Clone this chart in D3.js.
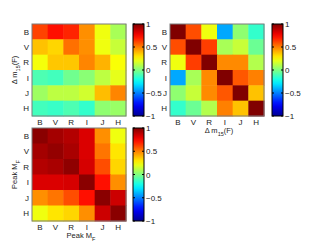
<!DOCTYPE html>
<html>
<head>
<meta charset="utf-8">
<script src="https://cdn.jsdelivr.net/npm/d3@7"></script>
<style>
  body { margin: 0; background: #fff; }
  svg { display: block; font-family: "Liberation Sans", Arial, sans-serif; }
</style>
</head>
<body>
<div id="chart"></div>
<script>
// band names (rows top to bottom, columns left to right)
const bands = ["B", "V", "R", "I", "J", "H"];

// correlation of delta m15(F) (rows) vs peak M_F (cols)
const dm15VsPeak = [
  [0.62, 0.72, 0.68, 0.47, 0.22, 0.08],
  [0.37, 0.33, 0.53, 0.47, 0.22, 0.14],
  [0.23, 0.36, 0.36, 0.49, 0.40, 0.24],
  [-0.10, -0.12, -0.03, 0.02, 0.12, 0.20],
  [0.06, 0.12, 0.12, 0.16, 0.38, 0.49],
  [-0.12, -0.14, -0.10, -0.15, 0.03, 0.05]
];

// correlation of delta m15(F) between bands
const dm15Corr = [
  [1.00, 0.60, 0.22, -0.42, 0.03, -0.15],
  [0.60, 1.00, 0.63, 0.08, 0.14, -0.04],
  [0.22, 0.63, 1.00, 0.48, 0.48, 0.10],
  [-0.42, 0.08, 0.48, 1.00, 0.58, 0.50],
  [0.03, 0.14, 0.48, 0.58, 1.00, 0.37],
  [-0.15, -0.04, 0.10, 0.50, 0.37, 1.00]
];

// correlation of peak M_F between bands
const peakCorr = [
  [0.98, 0.93, 0.90, 0.82, 0.47, 0.22],
  [0.93, 0.96, 0.92, 0.82, 0.52, 0.30],
  [0.90, 0.92, 0.97, 0.83, 0.60, 0.33],
  [0.82, 0.82, 0.83, 0.98, 0.72, 0.47],
  [0.47, 0.52, 0.60, 0.72, 0.98, 0.85],
  [0.22, 0.30, 0.33, 0.47, 0.85, 0.98]
];

const cbTicks = [1, 0.5, 0, -0.5, -1];

const width = 325, height = 245;

const svg = d3.select("#chart").append("svg")
  .attr("width", width)
  .attr("height", height);

// matlab-like jet colormap
const jet = d3.scaleLinear()
  .domain([-1, -0.75, -0.25, 0.25, 0.75, 1])
  .range(["#000090", "#0000ff", "#00ffff", "#ffff00", "#ff0000", "#800000"])
  .clamp(true);

// gradient for the colorbars
const grad = svg.append("defs").append("linearGradient")
  .attr("id", "jetgrad")
  .attr("x1", 0).attr("y1", 1).attr("x2", 0).attr("y2", 0);
d3.range(0, 1.0001, 0.05).forEach(t => {
  grad.append("stop")
    .attr("offset", t)
    .attr("stop-color", jet(-1 + 2 * t));
});

function fmt(v) {
  return v < 0 ? "\u2212" + Math.abs(v) : String(v);
}

function label(g, x, y, main, sub, rest, rotate) {
  const t = g.append("text")
    .attr("font-size", 7.5)
    .attr("fill", "#222")
    .attr("text-anchor", "middle")
    .attr("transform", rotate
      ? `translate(${x},${y}) rotate(-90)`
      : `translate(${x},${y})`);
  t.append("tspan").text(main);
  t.append("tspan").attr("font-size", 5.5).attr("dy", 2.5).text(sub);
  if (rest) t.append("tspan").attr("dy", -2.5).text(rest);
}

function heatmap(mat, x0, y0, w, h, cbX, opts) {
  const g = svg.append("g").attr("transform", `translate(${x0},${y0})`);
  const x = d3.scaleBand().domain(bands).range([0, w]);
  const y = d3.scaleBand().domain(bands).range([0, h]);

  bands.forEach((rb, i) => {
    g.selectAll(null)
      .data(mat[i])
      .enter().append("rect")
      .attr("x", (d, j) => x(bands[j]))
      .attr("y", y(rb))
      .attr("width", x.bandwidth() + 0.5)
      .attr("height", y.bandwidth() + 0.5)
      .attr("fill", d => jet(d));
  });

  g.append("rect")
    .attr("width", w).attr("height", h)
    .attr("fill", "none")
    .attr("stroke", "#7a7a7a")
    .attr("stroke-width", 1);

  // tick labels
  g.selectAll(null).data(bands).enter().append("text")
    .attr("x", d => x(d) + x.bandwidth() / 2)
    .attr("y", h + 8.5)
    .attr("text-anchor", "middle")
    .attr("font-size", 8)
    .attr("fill", "#222")
    .text(d => d);
  g.selectAll(null).data(bands).enter().append("text")
    .attr("x", -3)
    .attr("y", d => y(d) + y.bandwidth() / 2 + 3)
    .attr("text-anchor", "end")
    .attr("font-size", 8)
    .attr("fill", "#222")
    .text(d => d);

  if (opts.ylabel) label(g, -15, h / 2, opts.ylabel[0], opts.ylabel[1], opts.ylabel[2], true);
  if (opts.xlabel) label(g, w / 2 + 2, h + 17, opts.xlabel[0], opts.xlabel[1], opts.xlabel[2], false);

  // colorbar
  const cw = 11;
  const cb = svg.append("g").attr("transform", `translate(${cbX},${y0})`);
  const cy = d3.scaleLinear().domain([-1, 1]).range([h, 0]);
  cb.append("rect")
    .attr("width", cw).attr("height", h)
    .attr("fill", "url(#jetgrad)")
    .attr("stroke", "#000")
    .attr("stroke-width", 1);
  cbTicks.forEach(v => {
    cb.append("line").attr("x1", 0).attr("x2", 2)
      .attr("y1", cy(v)).attr("y2", cy(v)).attr("stroke", "#000");
    cb.append("line").attr("x1", cw - 2).attr("x2", cw)
      .attr("y1", cy(v)).attr("y2", cy(v)).attr("stroke", "#000");
  });
  cb.selectAll(null).data(cbTicks).enter().append("text")
    .attr("x", cw + 2)
    .attr("y", d => cy(d) + 3)
    .attr("font-size", 8)
    .attr("fill", "#222")
    .text(fmt);
}

heatmap(dm15VsPeak, 32, 24, 94, 92, 133, { ylabel: ["\u0394 m", "15", "(F)"] });
heatmap(dm15Corr, 170, 24, 94, 92, 272, { xlabel: ["\u0394 m", "15", "(F)"] });
heatmap(peakCorr, 32, 128, 94, 93, 133, { ylabel: ["Peak M", "F", ""], xlabel: ["Peak M", "F", ""] });
</script>
</body>
</html>
